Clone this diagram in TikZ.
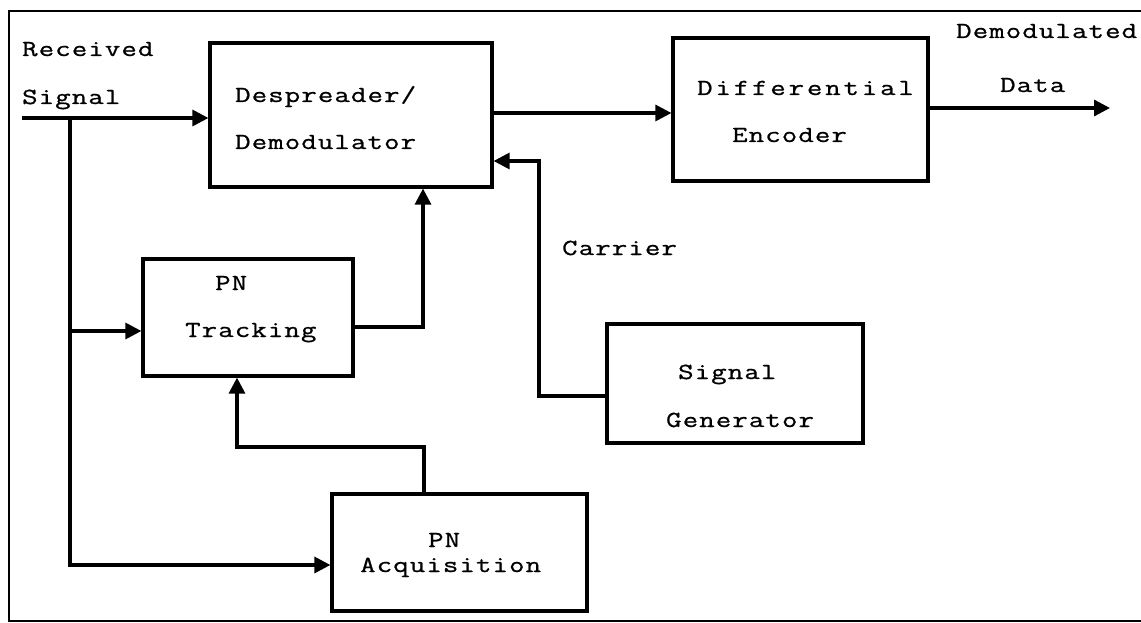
\documentclass[tikz,border=0pt]{standalone}
\usepackage{fontspec}
\setmonofont{Latin Modern Mono}
\usepackage{tikz}
\usetikzlibrary{arrows.meta}
\tikzset{
  bdbox/.style={draw=black, line width=3.2pt, rectangle, inner sep=0pt},
  bdwire/.style={line width=3.2pt, draw=black, line join=miter},
  bdarr/.style={bdwire, -{Triangle[length=16pt,width=16pt]}},
  bdtext/.style={anchor=base west, inner sep=0pt,
    font=\ttfamily\fontsize{23}{28}\selectfont\addfontfeature{FakeStretch=1.3,LetterSpace=5,FakeBold=0.9}},
  bdwide/.style={bdtext, font=\ttfamily\fontsize{23}{28}\selectfont\addfontfeature{FakeStretch=1.3,LetterSpace=12.6,FakeBold=0.9}},
  bdframe/.style={line width=2.2pt, draw=black},
}

\begin{document}
\begin{tikzpicture}[x=1pt, y=-1pt]
\useasboundingbox (0,0) rectangle (1141,623);
\begin{scope}
\clip (0,0) rectangle (1141,623);
\draw[bdframe] (9,11) rectangle (1160,621);
\end{scope}
% blocks
\node[bdbox, minimum width=282pt, minimum height=144pt] (desp) at (351,115) {};
\node[bdbox, minimum width=255pt, minimum height=143pt] (diff) at (800.5,109.5) {};
\node[bdbox, minimum width=210pt, minimum height=117pt] (track) at (248,317.5) {};
\node[bdbox, minimum width=255pt, minimum height=117pt] (acq) at (459.5,552.5) {};
\node[bdbox, minimum width=256pt, minimum height=119pt] (gen) at (735,383.5) {};
% texts
\node[bdtext] (rxa) at (22,56) {Received};
\node[bdtext] (rxb) at (22,104) {Signal};
\node[bdtext] (despa) at (235,102) {Despreader/};
\node[bdtext] (despb) at (235,149) {Demodulator};
\node[bdwide] (diffa) at (697,95) {Differential};
\node[bdtext] (diffb) at (732,142) {Encoder};
\node[bdtext] (outa) at (956,38) {Demodulated};
\node[bdtext] (outb) at (1000,92) {Data};
\node[bdtext] (carr) at (562,255) {Carrier};
\node[bdtext] (tracka) at (215,290) {PN};
\node[bdtext] (trackb) at (185,337) {Tracking};
\node[bdtext] (acqa) at (428,547) {PN};
\node[bdtext] (acqb) at (360,572) {Acquisition};
\node[bdtext] (gena) at (678,379) {Signal};
\node[bdtext] (genb) at (666,427) {Generator};
% wires
\coordinate (rxin) at (22,118);
\coordinate (split) at (70,118);
\coordinate (tapT) at (70,331);
\coordinate (tapA) at (70,565);
\coordinate (outp) at (1110,108);
\coordinate (k1) at (423,327);
\coordinate (k2) at (424,447);
\coordinate (k3) at (237,447);
\coordinate (k4) at (539,396);
\coordinate (k5) at (539,161);
\draw[bdarr] (rxin) -- (rxin -| desp.west);
\draw[bdarr] (split) -- (tapA) -- (tapA -| acq.west);
\draw[bdarr] (tapT) -- (tapT -| track.west);
\draw[bdarr] (desp.east |- 0,113) -- (diff.west |- 0,113);
\draw[bdarr] (diff.east |- outp) -- (outp);
\draw[bdarr] (k1 -| track.east) -- (k1) -- (k1 |- desp.south);
\draw[bdarr] (k2 |- acq.north) -- (k2) -- (k3) -- (k3 |- track.south);
\draw[bdarr] (k4 -| gen.west) -- (k4) -- (k5) -- (k5 -| desp.east);
\end{tikzpicture}
\end{document}
